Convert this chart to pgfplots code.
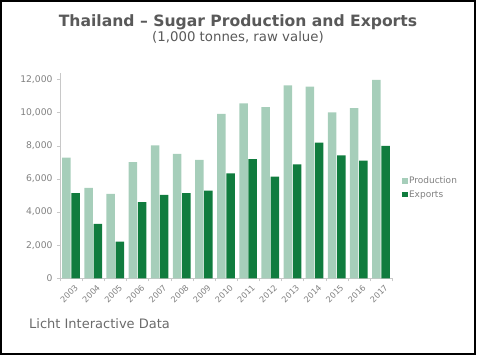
\documentclass[border=0pt]{standalone}
\usepackage{fontspec}
\setmainfont{DejaVu Sans}
\usepackage{pgfplots}
\pgfplotsset{compat=1.18}
\definecolor{prod}{HTML}{A6CEBA}
\definecolor{expo}{HTML}{107C3E}
\definecolor{axgray}{HTML}{C8C8C8}
\definecolor{txtgray}{HTML}{808080}
\definecolor{ttlgray}{HTML}{595959}
\begin{document}
\begin{tikzpicture}
\path[use as bounding box] (0bp,0bp) rectangle (477bp,357bp);
\draw[line width=1.8bp] (0.9bp,2.7bp) rectangle (475.2bp,356.1bp);
\node[anchor=base, font=\fontsize{15.6bp}{18bp}\selectfont\bfseries, text=ttlgray, inner sep=0pt] at (238bp,330.5bp) {Thailand – Sugar Production and Exports};
\node[anchor=base, font=\fontsize{13.3bp}{15bp}\selectfont, text=ttlgray, inner sep=0pt] at (238bp,315bp) {(1,000 tonnes, raw value)};
\node[anchor=base west, font=\fontsize{13bp}{15bp}\selectfont, text=ttlgray!90, inner sep=0pt] at (29bp,29bp) {Licht Interactive Data};
\begin{axis}[
  at={(60bp,78.7bp)}, anchor=south west,
  scale only axis, width=332bp, height=205.6bp,
  xmin=-0.5, xmax=14.5, ymin=0, ymax=12400,
  ybar, bar width=8.5bp,
  axis x line*=bottom, axis y line*=left,
  axis line style={axgray, -},
  tick align=outside,
  xtick={0,...,14},
  xticklabels={2003,2004,2005,2006,2007,2008,2009,2010,2011,2012,2013,2014,2015,2016,2017},
  x tick style={draw=axgray},
  xtick style={draw=none},
  minor xtick={-0.5,0.5,...,14.5},
  minor x tick style={draw=axgray},
  minor tick length=3bp,
  xticklabel style={rotate=45, anchor=north east, inner sep=0.5bp, yshift=-3.5bp, xshift=1bp,
    font=\fontsize{8.2bp}{9bp}\selectfont, text=txtgray},
  ytick={0,2000,...,12000},
  scaled y ticks=false,
  yticklabel={\pgfmathprintnumber[assume math mode=true,1000 sep={,}]{\tick}},
  ytick style={draw=axgray}, major tick length=3bp,
  yticklabel style={font=\fontsize{9.2bp}{10bp}\selectfont, text=txtgray, xshift=-1bp},
  legend style={at={(1.03,0.44)}, anchor=west, draw=none, fill=none,
    font=\fontsize{9bp}{10bp}\selectfont, text=txtgray, row sep=2.5bp, inner sep=0pt,
    nodes={inner sep=1.5bp}},
  legend cell align=left,
  legend image code/.code={\fill[#1] (0bp,-2.7bp) rectangle (5.4bp,2.7bp);},
]
\addplot[fill=prod, draw=none, bar shift=-4.6bp] coordinates {
(0,7280) (1,5450) (2,5090) (3,7000) (4,8020) (5,7500) (6,7140) (7,9910)
(8,10550) (9,10330) (10,11640) (11,11560) (12,10010) (13,10270) (14,11960)};
\addplot[fill=expo, draw=none, bar shift=4.6bp] coordinates {
(0,5130) (1,3280) (2,2210) (3,4600) (4,5030) (5,5130) (6,5290) (7,6330)
(8,7180) (9,6130) (10,6870) (11,8180) (12,7420) (13,7100) (14,7980)};
\legend{Production, Exports}
\end{axis}
\end{tikzpicture}
\end{document}
